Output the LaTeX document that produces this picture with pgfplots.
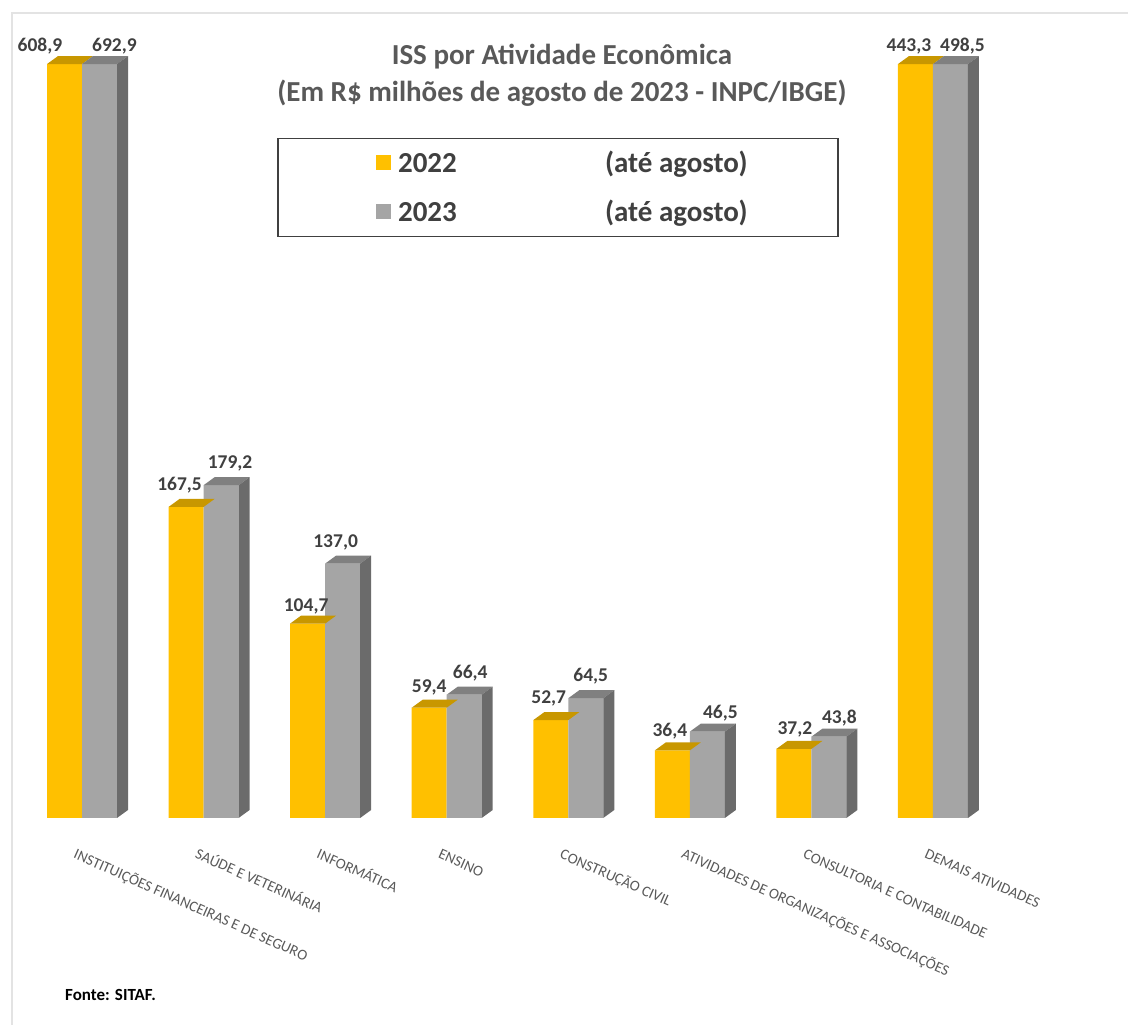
\documentclass[border=0pt]{standalone}
\usepackage{pgfplots}
\usepackage{pgfplotstable}
\pgfplotsset{compat=1.18}
\usepackage{fontspec}
\setmainfont{Carlito}

\definecolor{amarelo}{HTML}{FFC000}
\definecolor{amareloTopo}{HTML}{C89700}
\definecolor{cinza}{HTML}{A5A5A5}
\definecolor{cinzaTopo}{HTML}{808080}
\definecolor{cinzaLado}{HTML}{6B6B6B}
\definecolor{texto}{HTML}{404040}
\definecolor{rotulo}{HTML}{595959}
\definecolor{moldura}{HTML}{E3E3E3}

% ISS (R$ milhões), 2022 (a) and 2023 (b); ax/ay, bx/by: label offsets in pt
\pgfplotstableread{
x  a      b      ax     ay  bx    by
0  608.9  692.9  -24.5  18  15    18
1  167.5  179.2  -6.5   22  9     22
2  104.7  137.0  -1.5   17  -7    21
3  59.4   66.4   0      20  6     22
4  52.7   64.5   -2     22  5     22
5  36.4   46.5   -2.5   19  13    18
6  37.2   43.8   1      19  10.5  19
7  443.3  498.5  -6.5   18  12    18
}\isstable

% top face of a bar, drawn from the centre of its front top edge
\pgfdeclareplotmark{bartop}{%
  \pgfpathmoveto{\pgfqpoint{-17.5pt}{0pt}}%
  \pgfpathlineto{\pgfqpoint{17.5pt}{0pt}}%
  \pgfpathlineto{\pgfqpoint{28.5pt}{8pt}}%
  \pgfpathlineto{\pgfqpoint{-6.5pt}{8pt}}%
  \pgfpathclose\pgfusepathqfill}
% right side face, reaching down to the base line
\pgfdeclareplotmark{barside}{%
  \pgfmathsetlengthmacro\barh{\barval*1.857pt}%
  \pgfpathmoveto{\pgfqpoint{17.5pt}{0pt}}%
  \pgfpathlineto{\pgfqpoint{28.5pt}{8pt}}%
  \pgfpathlineto{\pgfpoint{28.5pt}{8pt-\barh}}%
  \pgfpathlineto{\pgfpoint{17.5pt}{-\barh}}%
  \pgfpathclose\pgfusepathqfill}

\pgfplotsset{
  valor/.style={
    draw=none, mark=none, forget plot,
    nodes near coords={\pgfmathprintnumber[fixed,fixed zerofill,precision=1,use comma]{\pgfplotspointmeta}},
    every node near coord/.append style={anchor=center, inner sep=0pt,
      font=\fontsize{19.5}{20}\selectfont\bfseries, text=texto},
  },
}

\begin{document}
\begin{tikzpicture}
\path[use as bounding box] (0pt,0pt) rectangle (1128pt,1025pt);
\draw[moldura, line width=1.2pt] (12pt,0pt) -- (12pt,1012pt) -- (1128pt,1012pt);

\begin{axis}[
  at={(21.215pt,207pt)}, anchor=south west,
  x=121.57pt, y=1.857pt,
  xmin=-0.5, xmax=7.5, ymin=0, ymax=425,
  clip=false,
  axis line style={draw=none},
  tick style={draw=none},
  ytick=\empty,
  xtick={-0.041,0.959,1.959,2.959,3.959,4.959,5.959,6.959},
  xticklabels={INSTITUIÇÕES FINANCEIRAS E DE SEGURO, SAÚDE E VETERINÁRIA, INFORMÁTICA, ENSINO, CONSTRUÇÃO CIVIL, ATIVIDADES DE ORGANIZAÇÕES E ASSOCIAÇÕES, CONSULTORIA E CONTABILIDADE, DEMAIS ATIVIDADES},
  xticklabel style={yshift=-30pt, rotate=-24, anchor=north west, inner sep=0pt,
    text height=10.5pt, font=\fontsize{15}{17}\selectfont, text=rotulo},
  /pgf/number format/assume math mode=true,
  title={ISS por Atividade Econômica\\(Em R\$ milhões de agosto de 2023 - INPC/IBGE)},
  title style={at={(0.556,0.934)}, anchor=center, align=center,
    font=\fontsize{29}{37}\selectfont\bfseries, text=rotulo},
  legend style={at={(0.552,0.799)}, anchor=center, draw=texto, line width=1.2pt,
    inner sep=0pt, fill=white, font=\fontsize{29}{30}\selectfont\bfseries,
    text=texto, nodes={inner sep=0pt}, row sep=0pt},
  legend cell align=left,
]

% 2022: front faces and top faces
\addplot[ybar, bar width=35pt, bar shift=-17.5pt, fill=amarelo, draw=none,
  legend image code/.code={\path[draw=none,fill=none] (-98pt,-24.5pt) rectangle (22pt,24.5pt);
    \fill[amarelo] (0pt,-7.5pt) rectangle (15pt,7.5pt);}]
  table[x=x, y expr={min(\thisrow{a},406)}] {\isstable};
\addlegendentry{\makebox[207pt][l]{2022}\makebox[233pt][l]{(até agosto)}}
\addplot[only marks, mark=bartop, mark options={fill=amareloTopo, draw=none}, forget plot]
  table[x expr=\thisrow{x}-0.14395, y expr={min(\thisrow{a},406)}] {\isstable};

% 2023: front faces, top faces and side faces
\addplot[ybar, bar width=35pt, bar shift=17.5pt, fill=cinza, draw=none,
  legend image code/.code={\path[draw=none,fill=none] (-98pt,-24.5pt) rectangle (22pt,24.5pt);
    \fill[cinza] (0pt,-7.5pt) rectangle (15pt,7.5pt);}]
  table[x=x, y expr={min(\thisrow{b},406)}] {\isstable};
\addlegendentry{\makebox[207pt][l]{2023}\makebox[233pt][l]{(até agosto)}}
\addplot[only marks, mark=bartop, mark options={fill=cinzaTopo, draw=none}, forget plot]
  table[x expr=\thisrow{x}+0.14395, y expr={min(\thisrow{b},406)}] {\isstable};
\addplot[only marks, mark=barside, mark options={fill=cinzaLado, draw=none}, forget plot,
  visualization depends on={min(\thisrow{b},406) \as \barval}]
  table[x expr=\thisrow{x}+0.14395, y expr={min(\thisrow{b},406)}] {\isstable};

% value labels above the bars
\addplot[valor, point meta=\thisrow{a}]
  table[x expr={\thisrow{x}-0.14395+\thisrow{ax}/121.57},
        y expr={min(\thisrow{a},406)+\thisrow{ay}/1.857}] {\isstable};
\addplot[valor, point meta=\thisrow{b}]
  table[x expr={\thisrow{x}+0.14395+\thisrow{bx}/121.57},
        y expr={min(\thisrow{b},406)+\thisrow{by}/1.857}] {\isstable};
\end{axis}

\node[anchor=west, inner sep=0pt, font=\fontsize{17}{20}\selectfont\bfseries] at (65pt,30pt) {Fonte: SITAF.};
\end{tikzpicture}
\end{document}
